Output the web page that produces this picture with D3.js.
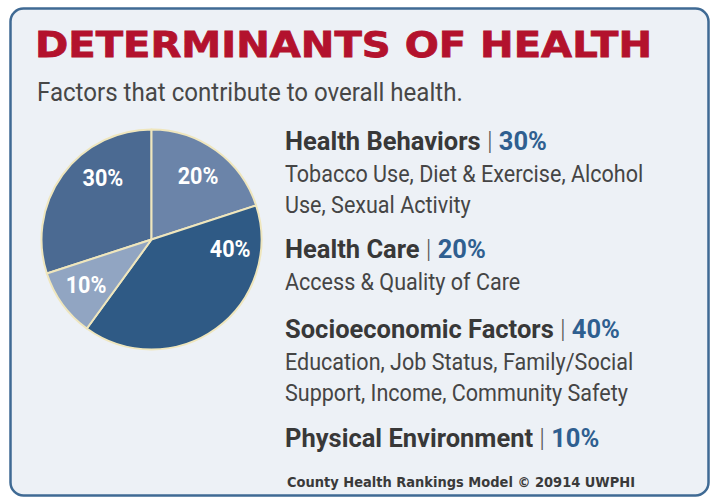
<!DOCTYPE html>
<html>
<head>
<meta charset="utf-8">
<script src="https://cdn.jsdelivr.net/npm/d3@7"></script>
<style>
  html, body { margin: 0; padding: 0; background: #fff; }
  svg { display: block; }
</style>
</head>
<body>
<script>
var categories = ["Health Behaviors", "Health Care", "Socioeconomic Factors", "Physical Environment"];
var shares = [30, 20, 40, 10];
var details = [
  ["Tobacco Use, Diet & Exercise, Alcohol", "Use, Sexual Activity"],
  ["Access & Quality of Care"],
  ["Education, Job Status, Family/Social", "Support, Income, Community Safety"],
  []
];
var title = "DETERMINANTS OF HEALTH";
var subtitle = "Factors that contribute to overall health.";
var footer = "County Health Rankings Model \u00A9 20914 UWPHI";

var width = 713, height = 499;
var sliceColors = ["#4b6a92", "#6b84a9", "#2f5a85", "#91a5c2"];
// where the % label sits inside each slice (fraction of its sweep)
var labelAt = [0.65, 0.5, 0.17, 0.55];
var COND_FONT = "Roboto, 'Liberation Sans', sans-serif";

var svg = d3.select("body").append("svg")
  .attr("width", width)
  .attr("height", height);

// card
svg.append("rect")
  .attr("x", 10.5).attr("y", 8.5)
  .attr("width", 698).attr("height", 487)
  .attr("rx", 13).attr("ry", 13)
  .attr("fill", "#edf1f6")
  .attr("stroke", "#3f6a94")
  .attr("stroke-width", 2.5);

svg.append("text")
  .attr("x", 35).attr("y", 57)
  .attr("font-family", "'DejaVu Sans', sans-serif")
  .attr("font-weight", "bold")
  .attr("font-size", 36)
  .attr("fill", "#b3122d")
  .attr("stroke", "#b3122d")
  .attr("stroke-width", 0.8)
  .attr("textLength", 617)
  .attr("lengthAdjust", "spacingAndGlyphs")
  .text(title);

// squeezed text, Roboto scaled on x
var condensedText = function(x, y, k){
  return svg.append("text")
    .attr("transform", "translate(" + x + "," + y + ") scale(" + k + ",1)")
    .attr("font-family", COND_FONT);
};

condensedText(37, 101, 0.945)
  .attr("font-size", 25.5)
  .attr("fill", "#474747")
  .text(subtitle);

// pie
var cx = 151.5, cy = 239.5, radius = 110;
var pie = d3.pie().sort(null)
  .startAngle(-2 * Math.PI * shares[0] / 100)
  .endAngle(2 * Math.PI - 2 * Math.PI * shares[0] / 100);
var arcs = pie(shares);
var arc = d3.arc().innerRadius(0).outerRadius(radius);

var g = svg.append("g").attr("transform", "translate(" + cx + "," + cy + ")");
g.selectAll("path.slice")
  .data(arcs)
  .enter().append("path")
  .attr("class", "slice")
  .attr("d", arc)
  .attr("fill", function(d, i){ return sliceColors[i]; })
  .attr("stroke", "#efe6bd")
  .attr("stroke-width", 2)
  .attr("stroke-linejoin", "round");

var labelR = radius * 0.72;
g.selectAll("text.pct")
  .data(arcs)
  .enter().append("text")
  .attr("class", "pct")
  .attr("transform", function(d, i){
    var a = d.startAngle + (d.endAngle - d.startAngle) * labelAt[i];
    var x = Math.sin(a) * labelR, y = -Math.cos(a) * labelR;
    return "translate(" + x + "," + y + ") scale(0.9,1)";
  })
  .attr("text-anchor", "middle")
  .attr("dy", "0.36em")
  .attr("font-family", COND_FONT)
  .attr("font-weight", "bold")
  .attr("font-size", 24)
  .attr("fill", "#fff")
  .text(function(d){ return d.data + "%"; });

// legend
var legendX = 285;
var headY = [150, 258, 338, 447];
var lineH = 30.5;
categories.forEach(function(name, i){
  var t = condensedText(legendX, headY[i], 1.02)
    .attr("font-size", 25);
  t.append("tspan")
    .attr("font-weight", "bold")
    .attr("fill", "#383838")
    .text(name);
  t.append("tspan")
    .attr("font-weight", 300)
    .attr("fill", "#5a5a5a")
    .text(" | ");
  t.append("tspan")
    .attr("font-weight", "bold")
    .attr("fill", "#2f5f90")
    .text(shares[i] + "%");
  details[i].forEach(function(line, j){
    condensedText(legendX, headY[i] + 32 + j * lineH, 0.898)
      .attr("font-size", 24)
      .attr("fill", "#454545")
      .text(line);
  });
});

svg.append("text")
  .attr("x", 287).attr("y", 487)
  .attr("font-family", "'DejaVu Sans', sans-serif")
  .attr("font-weight", "bold")
  .attr("font-size", 13.5)
  .attr("fill", "#3a3a3a")
  .attr("textLength", 348)
  .attr("lengthAdjust", "spacingAndGlyphs")
  .text(footer);
</script>
</body>
</html>
